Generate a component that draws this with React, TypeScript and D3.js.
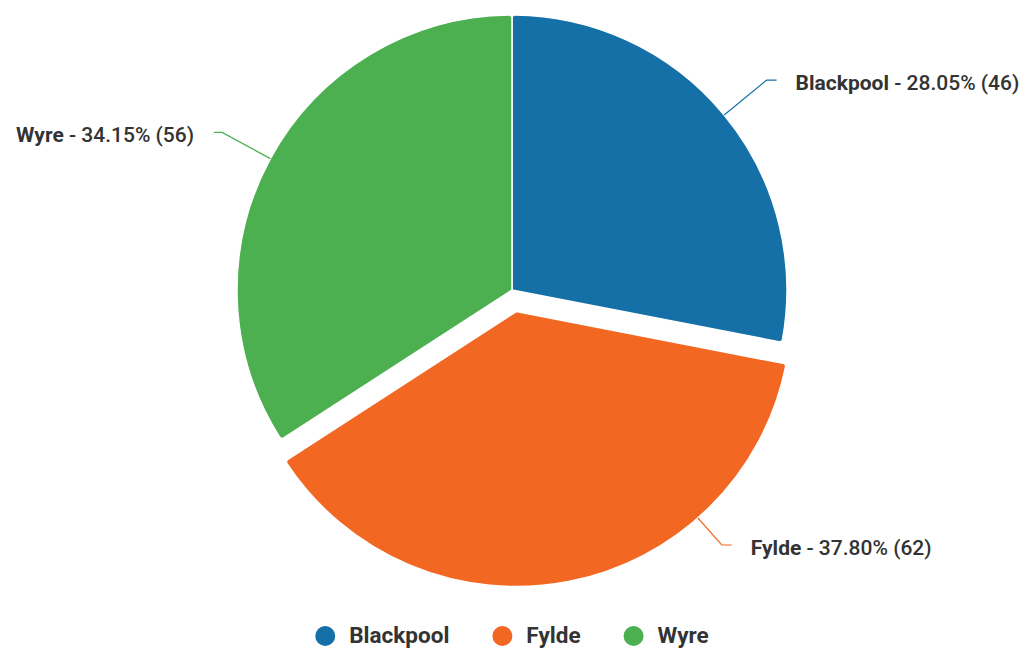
import React, { useEffect, useRef } from "react";
import * as d3 from "d3";

const categories = ["Blackpool", "Fylde", "Wyre"];
const values = [46, 62, 56];
const colors = ["#1470A6", "#F26722", "#4CAF50"];
const exploded = [false, true, false];

const W = 1025;
const H = 648;

export default function App() {
  const ref = useRef<SVGSVGElement | null>(null);

  useEffect(() => {
    const svg = d3.select(ref.current);
    svg.selectAll("*").remove();

    const cx = 512;
    const cy = 290;
    const r = 275;
    const explodeDist = 22;
    const labelR = r + 55;
    const clampedLabelR = r + 36;
    const labelMaxY = 545;
    const total = d3.sum(values);

    const pie = d3
      .pie<number>()
      .sort(null)
      .value((d) => d)
      .startAngle(0)
      .endAngle(2 * Math.PI);
    const arcs = pie(values);
    const arcGen = d3
      .arc<d3.PieArcDatum<number>>()
      .innerRadius(0)
      .outerRadius(r)
      .cornerRadius(3);

    const g = svg.append("g");

    arcs.forEach((a, i) => {
      const mid = (a.startAngle + a.endAngle) / 2;
      const off = exploded[i] ? explodeDist : 0;
      const sx = cx + off * Math.sin(mid);
      const sy = cy - off * Math.cos(mid);
      g.append("path")
        .attr("d", arcGen(a) as string)
        .attr("transform", `translate(${sx},${sy})`)
        .attr("fill", colors[i])
        .attr("stroke", "#ffffff")
        .attr("stroke-width", 1.5)
        .attr("stroke-linejoin", "round");

      let lx = sx + labelR * Math.sin(mid);
      let ly = sy - labelR * Math.cos(mid);
      const right = Math.sin(mid) >= 0;
      if (ly > labelMaxY) {
        ly = labelMaxY;
        const dy = ly - sy;
        const dx = Math.sqrt(Math.max(0, clampedLabelR * clampedLabelR - dy * dy));
        lx = sx + (right ? dx : -dx);
      }
      const ang = Math.atan2(lx - sx, -(ly - sy));
      const tx = sx + r * Math.sin(ang);
      const ty = sy - r * Math.cos(ang);
      const hx = lx + (right ? 10 : -8);

      g.append("path")
        .attr("d", `M${tx},${ty}L${lx},${ly}L${hx},${ly}`)
        .attr("fill", "none")
        .attr("stroke", colors[i])
        .attr("stroke-width", 1.2);

      const pct = ((values[i] / total) * 100).toFixed(2);
      const text = g
        .append("text")
        .attr("x", right ? lx + 29 : lx - 28)
        .attr("y", ly + 4)
        .attr("text-anchor", right ? "start" : "end")
        .attr("dominant-baseline", "middle")
        .attr("font-family", "Roboto, 'Noto Sans', sans-serif")
        .attr("font-size", 21)
        .attr("fill", "#333333");
      text.append("tspan").attr("font-weight", 700).text(categories[i]);
      text
        .append("tspan")
        .attr("font-weight", 500)
        .text(` - ${pct}% (${values[i]})`);
    });

    const legend = svg.append("g");
    const items: { w: number; el: d3.Selection<SVGGElement, unknown, null, undefined> }[] = [];
    categories.forEach((c, i) => {
      const it = legend.append("g");
      it.append("circle").attr("cx", 10).attr("cy", 0).attr("r", 10).attr("fill", colors[i]);
      const t = it
        .append("text")
        .attr("x", 34)
        .attr("y", 1)
        .attr("dominant-baseline", "middle")
        .attr("font-family", "Roboto, 'Noto Sans', sans-serif")
        .attr("font-size", 22.5)
        .attr("font-weight", 700)
        .attr("fill", "#333333")
        .text(c);
      const tw = (t.node() as SVGTextElement).getComputedTextLength();
      items.push({ w: 34 + tw, el: it });
    });
    const gap = 43;
    const totalW = d3.sum(items, (d) => d.w) + gap * (items.length - 1);
    let x = cx - totalW / 2;
    items.forEach((d) => {
      d.el.attr("transform", `translate(${x},${636})`);
      x += d.w + gap;
    });
  }, []);

  return (
    <div style={{ position: "absolute", left: 0, top: 0, width: W, height: H, background: "#fff" }}>
      <svg ref={ref} width={W} height={H} />
    </div>
  );
}
